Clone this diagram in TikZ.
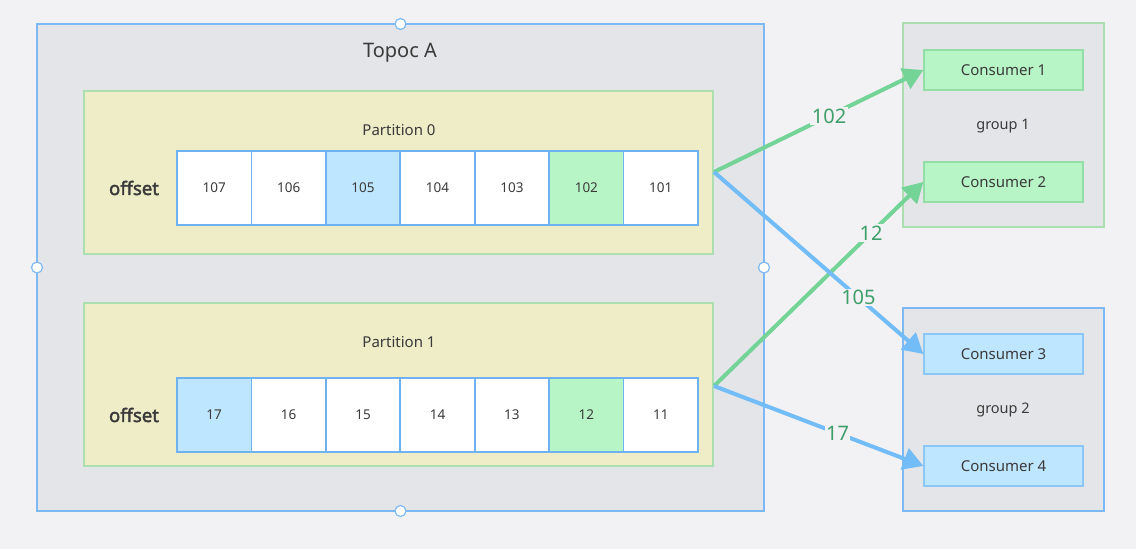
\documentclass[tikz,border=0pt]{standalone}
\usepackage{fontspec}
\setmainfont{Noto Sans}[AutoFakeBold=2.2]
\usetikzlibrary{arrows.meta}
\definecolor{bg}{HTML}{F2F2F4}
\definecolor{topicfill}{HTML}{E4E5E8}
\definecolor{blueb}{HTML}{7DB9F5}
\definecolor{partfill}{HTML}{EFECC8}
\definecolor{partb}{HTML}{ABDFB0}
\definecolor{cellb}{HTML}{6EB2F2}
\definecolor{bluefill}{HTML}{BEE6FE}
\definecolor{greenfill}{HTML}{B8F5C6}
\definecolor{greenb}{HTML}{92DEA6}
\definecolor{cblueb}{HTML}{8BC8F8}
\definecolor{garrow}{HTML}{74D396}
\definecolor{barrow}{HTML}{72BCF8}
\definecolor{lblgreen}{HTML}{3E9E6A}
\definecolor{txt}{HTML}{3A3A3A}
\tikzset{
  box/.style={draw, line width=1.3pt, inner sep=0pt},
  cellw/.style={draw=cellb, fill=white, line width=1.6pt, minimum width=74.4pt, minimum height=74pt, inner sep=0pt, font=\fontsize{13.5}{15}\selectfont, text=txt},
  cellbl/.style={cellw, fill=bluefill},
  cellgr/.style={cellw, fill=greenfill},
  consumer/.style={line width=1.3pt, minimum width=159pt, minimum height=40pt, inner sep=0pt, font=\fontsize{15}{17}\selectfont, text=txt},
  handle/.style={circle, draw=blueb, fill=white, line width=1.2pt, minimum size=11pt, inner sep=0pt},
  arr/.style={line width=4pt, -{Triangle[length=20pt,width=22pt]}},
  lbl/.style={fill=bg, inner sep=1.5pt, text=lblgreen, font=\fontsize{20}{22}\selectfont},
  lab/.style={text=txt},
}
\begin{document}
\begin{tikzpicture}[x=1pt,y=-1pt]
\fill[bg] (0,0) rectangle (1136,549);
\useasboundingbox (0,0) rectangle (1136,549);
% topic
\node[box, draw=blueb, fill=topicfill, minimum width=727pt, minimum height=487pt] (topic) at (400.5,267.5) {};
\node[lab, font=\fontsize{20}{22}\selectfont] (title) at (400,53) {Topoc A};
% partitions
\node[box, draw=partb, fill=partfill, minimum width=629pt, minimum height=163pt] (part0) at (398.5,172.5) {};
\node[box, draw=partb, fill=partfill, minimum width=629pt, minimum height=163pt] (part1) at (398.5,384.5) {};
\node[lab, font=\fontsize{15}{17}\selectfont] (pt0) at (399,130) {Partition 0};
\node[lab, font=\fontsize{15}{17}\selectfont] (pt1) at (399,342) {Partition 1};
\node[lab, font=\fontsize{18.5}{20}\selectfont\bfseries] (off0) at (134,188) {offset};
\node[lab, font=\fontsize{18.5}{20}\selectfont\bfseries] (off1) at (134,415) {offset};
\foreach \v/\s [count=\i from 0] in {107/cellw,106/cellw,105/cellbl,104/cellw,103/cellw,102/cellgr,101/cellw}
  \node[\s] (a\i) at ({177+74.43*(\i+0.5)},188) {\v};
\foreach \v/\s [count=\i from 0] in {17/cellbl,16/cellw,15/cellw,14/cellw,13/cellw,12/cellgr,11/cellw}
  \node[\s] (b\i) at ({177+74.43*(\i+0.5)},415) {\v};
% handles
\node[handle] (h1) at (400.5,24) {};
\node[handle] (h2) at (37,267.5) {};
\node[handle] (h3) at (764,267.5) {};
\node[handle] (h4) at (400.5,511) {};
% groups
\node[box, draw=partb, fill=topicfill, minimum width=201pt, minimum height=204pt] (g1) at (1003.5,125) {};
\node[box, draw=blueb, fill=topicfill, minimum width=201pt, minimum height=203pt] (g2) at (1003.5,409.5) {};
\node[lab, font=\fontsize{14.5}{16}\selectfont] (g1l) at (1003,126) {group 1};
\node[lab, font=\fontsize{14.5}{16}\selectfont] (g2l) at (1003,410) {group 2};
\node[consumer, draw=greenb, fill=greenfill] (c1) at (1003.5,70) {Consumer 1};
\node[consumer, draw=greenb, fill=greenfill] (c2) at (1003.5,182) {Consumer 2};
\node[consumer, draw=cblueb, fill=bluefill] (c3) at (1003.5,354) {Consumer 3};
\node[consumer, draw=cblueb, fill=bluefill] (c4) at (1003.5,466) {Consumer 4};
% arrows
\coordinate (p0) at (714,172);
\coordinate (p1) at (714,386);
\draw[arr, garrow] (p0) -- node[lbl, pos=0.55] {102} (c1.west);
\draw[arr, garrow] (p1) -- node[lbl, pos=0.75] {12} (c2.west);
\draw[arr, barrow] (p0) -- node[lbl, pos=0.69] {105} (c3.west);
\draw[arr, barrow] (p1) -- node[lbl, pos=0.59] {17} (c4.west);
\end{tikzpicture}
\end{document}
